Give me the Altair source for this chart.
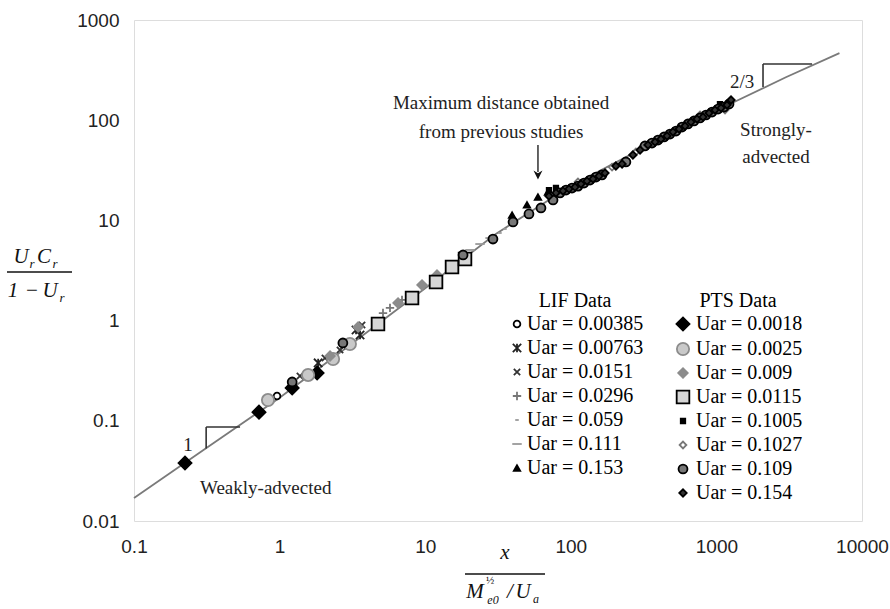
import altair as alt
import pandas as pd

# ---------------- data ----------------
curve_x = [0.1, 0.3, 1, 3, 10, 30, 100, 300, 1000, 3000, 7000]
curve_y = [0.017, 0.051, 0.17, 0.56, 2.1, 7.2, 22, 51, 125, 268, 467]

# LIF data
l00385_x = [0.96, 1.22]
l00385_y = [0.177, 0.233]
l00763_x = [1.84, 2.81, 3.35, 3.57]
l00763_y = [0.378, 0.571, 0.806, 0.718]
l0151_x = [1.38, 2.05, 2.60, 3.68]
l0151_y = [0.280, 0.423, 0.509, 0.904]
l0296_x = [5.13, 5.73, 6.93]
l0296_y = [1.19, 1.34, 1.61]
l059_x = [14.1, 16.0, 30.2, 32.6, 35.3]
l059_y = [3.35, 3.84, 6.99, 7.49, 8.21]
l111_x = [20.3, 23.8, 27.9]
l111_y = [5.07, 5.81, 6.67]
l153_x = [39.5, 50.0, 59.5, 69.7]
l153_y = [11.3, 14.3, 17.1, 19.2]

# PTS data
p0018_x = [0.224, 0.722, 1.22, 1.81]
p0018_y = [0.0379, 0.122, 0.213, 0.300]
p0025_x = [0.832, 1.57, 2.33, 3.04]
p0025_y = [0.161, 0.287, 0.414, 0.584]
p009_x = [2.22, 3.46, 6.51, 9.51, 12.05]
p009_y = [0.443, 0.863, 1.50, 2.27, 2.85]
p0115_x = [4.74, 8.12, 11.87, 15.28, 18.77]
p0115_y = [0.925, 1.68, 2.43, 3.43, 4.12]
p1005_x = [70.8, 79.1, 1058]
p1005_y = [20.1, 21.05, 145]
p1027_x = [112, 192, 280, 772, 1146]
p1027_y = [24.2, 34.1, 48.2, 112.7, 126.4]
p109_x = [1.22, 2.72, 18.2, 29.2, 40.1, 51.6, 62.4, 75.5, 84.3, 92.7, 101.9,
          112.1, 123.2, 135.5, 148.9, 163.8, 239, 323, 361, 397, 437, 480,
          528, 580, 638, 702, 772, 848, 933, 1026, 1128, 1221]
p109_y = [0.244, 0.598, 4.52, 6.52, 9.64, 11.6, 13.3, 16.0, 18.8, 20.1, 21.05,
          22.0, 23.6, 25.3, 27.1, 28.4, 38.3, 55.3, 59.2, 63.4, 68.0, 72.8,
          78.0, 85.5, 91.7, 98.2, 105.2, 112.7, 120.7, 129.3, 135.4, 145.0]
p154_x = [70.8, 79.1, 88.4, 97.2, 106.9, 117.5, 129.2, 142.1, 156.2, 171.7,
          204, 225, 267, 299, 339, 379, 416, 458, 503, 554, 609, 669, 736,
          809, 890, 978, 1076, 1182, 1260]
p154_y = [17.5, 18.8, 19.7, 20.6, 21.5, 23.1, 24.7, 25.9, 27.7, 29.7,
          34.9, 36.6, 45.0, 50.4, 56.6, 60.6, 64.9, 69.6, 76.3, 81.7, 87.5,
          95.9, 102.8, 107.6, 118.0, 126.4, 132.4, 141.8, 159.1]

lif_names = ["Uar = 0.00385", "Uar = 0.00763", "Uar = 0.0151", "Uar = 0.0296",
             "Uar = 0.059", "Uar = 0.111", "Uar = 0.153"]
pts_names = ["Uar = 0.0018", "Uar = 0.0025", "Uar = 0.009", "Uar = 0.0115",
             "Uar = 0.1005", "Uar = 0.1027", "Uar = 0.109", "Uar = 0.154"]

x_ticks = [0.1, 1, 10, 100, 1000, 10000]
y_ticks = [0.01, 0.1, 1, 10, 100, 1000]

# annotations (data coordinates)
left_texts = ["Weakly-advected"]
left_x = [0.284]
left_y = [0.0213]
center_texts = ["Strongly-", "advected", "Maximum distance obtained",
                "from previous studies", "1", "2/3"]
center_x = [2566, 2566, 33.2, 33.2, 0.235, 1500]
center_y = [79.8, 42.8, 148.5, 76.2, 0.0573, 240]

# slope triangles: segments
seg_x = [0.313, 0.313, 2090, 2090]
seg_x2 = [0.313, 0.535, 2090, 4540]
seg_y = [0.053, 0.0867, 214, 364]
seg_y2 = [0.0867, 0.0867, 364, 364]

arrow_x = [59.5]
arrow_top = [56.6]
arrow_bottom = [30.4]
arrow_tip = [28.4]

# ---------------- build tables ----------------
def long(names, xs, ys, key):
    rows = []
    for n, xv, yv in zip(names, xs, ys):
        for a, b in zip(xv, yv):
            rows.append({"x": a, "y": b, key: n})
    return pd.DataFrame(rows)

lif_df = long(lif_names, [l00385_x, l00763_x, l0151_x, l0296_x, l059_x, l111_x, l153_x],
              [l00385_y, l00763_y, l0151_y, l0296_y, l059_y, l111_y, l153_y], "lif")
pts_df = long(pts_names, [p0018_x, p0025_x, p009_x, p0115_x, p1005_x, p1027_x, p109_x, p154_x],
              [p0018_y, p0025_y, p009_y, p0115_y, p1005_y, p1027_y, p109_y, p154_y], "pts")

curve_df = pd.DataFrame({"x": curve_x, "y": curve_y})
left_df = pd.DataFrame({"x": left_x, "y": left_y, "t": left_texts})
center_df = pd.DataFrame({"x": center_x, "y": center_y, "t": center_texts})
seg_df = pd.DataFrame({"x": seg_x, "x2": seg_x2, "y": seg_y, "y2": seg_y2})
arrow_df = pd.DataFrame({"x": arrow_x, "y": arrow_top, "y2": arrow_bottom, "tip": arrow_tip})

SERIF = "Liberation Serif"
SANS = "Liberation Sans"

xscale = alt.Scale(type="log", domain=[0.1, 10000], nice=False)
yscale = alt.Scale(type="log", domain=[0.01, 1000], nice=False)

xaxis = alt.Axis(values=x_ticks, format="~g", title=None, grid=False, ticks=False,
                 domain=False, labelFont=SANS, labelFontSize=19, labelColor="#222",
                 labelPadding=16, labelFlush=False, labelOverlap=False, labelBound=False)
yaxis = alt.Axis(values=y_ticks, format="~g", title=None, grid=False, ticks=False,
                 domain=False, labelFont=SANS, labelFontSize=19, labelColor="#222",
                 labelPadding=15, labelOverlap=False, labelBound=False)

X = alt.X("x:Q", scale=xscale, axis=xaxis)
Y = alt.Y("y:Q", scale=yscale, axis=yaxis)

curve = alt.Chart(curve_df).mark_line(color="#7a7a7a", strokeWidth=1.8).encode(x=X, y=Y)

segs = alt.Chart(seg_df).mark_rule(color="#333", strokeWidth=1.6).encode(
    x=alt.X("x:Q", scale=xscale, axis=xaxis), x2="x2:Q",
    y=alt.Y("y:Q", scale=yscale, axis=yaxis), y2="y2:Q")

notes_left = alt.Chart(left_df).mark_text(font=SERIF, fontSize=19, color="#222",
                                          baseline="middle", align="left").encode(
    x=X, y=Y, text="t:N")
notes_center = alt.Chart(center_df).mark_text(font=SERIF, fontSize=19, color="#222",
                                              baseline="middle", align="center").encode(
    x=X, y=Y, text="t:N")

arrow_line = alt.Chart(arrow_df).mark_rule(color="#111", strokeWidth=1.3).encode(
    x=X, y=Y, y2="y2:Q")
arrow_head = alt.Chart(arrow_df).mark_point(
    shape="M-1,-1L0,1L1,-1L0,-0.4Z", size=80, filled=True, color="#111", opacity=1
).encode(x=X, y=alt.Y("tip:Q", scale=yscale, axis=yaxis))

STAR = "M-1,-1L1,1M1,-1L-1,1M0,-1L0,1"
XMARK = "M-1,-1L1,1M1,-1L-1,1"
PLUS = "M-1,0L1,0M0,-1L0,1"
SDASH = "M-0.5,0L0.5,0"
LDASH = "M-1,0L1,0"

lif_shapes = ["circle", STAR, XMARK, PLUS, SDASH, LDASH, "triangle-up"]
lif_fills = ["white", "transparent", "transparent", "transparent", "transparent", "transparent", "black"]
lif_strokes = ["black", "#222", "#333", "#777", "#999", "#999", "black"]
lif_sizes = [45, 70, 40, 70, 50, 90, 40]

pts_shapes = ["diamond", "circle", "diamond", "square", "square", "diamond", "circle", "diamond"]
pts_fills = ["black", "#c9c9c9", "#8c8c8c", "#d6d6d6", "black", "white", "#777", "#333"]
pts_strokes = ["black", "#8c8c8c", "#8c8c8c", "black", "black", "#777", "black", "black"]
pts_sizes = [170, 150, 90, 160, 20, 45, 80, 55]

def leg(title, lx, offset):
    return alt.Legend(title=title, orient="none", legendX=lx, legendY=271,
                      titleAnchor="middle", titleFont=SERIF, titleFontSize=20,
                      titleFontWeight="normal", titleColor="black", titlePadding=3,
                      labelFont=SERIF, labelFontSize=20, labelColor="black",
                      rowPadding=4, labelOffset=offset, padding=0,
                      symbolStrokeWidth=1.8)

def layer_for(df, key, names, shapes, fills, strokes, sizes, title, lx, offset):
    lg = leg(title, lx, offset)
    return alt.Chart(df).mark_point(strokeWidth=1.8, opacity=1).encode(
        x=X, y=Y,
        shape=alt.Shape(f"{key}:N", scale=alt.Scale(domain=names, range=shapes), legend=lg),
        fill=alt.Fill(f"{key}:N", scale=alt.Scale(domain=names, range=fills), legend=lg),
        stroke=alt.Stroke(f"{key}:N", scale=alt.Scale(domain=names, range=strokes), legend=lg),
        size=alt.Size(f"{key}:N", scale=alt.Scale(type="ordinal", domain=names, range=sizes), legend=lg),
    )

lif_layer = layer_for(lif_df, "lif", lif_names, lif_shapes, lif_fills, lif_strokes,
                      lif_sizes, "LIF Data", 373, 0)
pts_layer = layer_for(pts_df, "pts", pts_names, pts_shapes, pts_fills, pts_strokes,
                      pts_sizes, "PTS Data", 539, 3)

dummy = pd.DataFrame({"a": [0]})

def txt(t, px, py, size=21, italic=True, align="center"):
    return alt.Chart(dummy).mark_text(text=t, font=SERIF, fontSize=size,
                                      fontStyle="italic" if italic else "normal",
                                      align=align, baseline="alphabetic", color="#111"
                                      ).encode(x=alt.value(px), y=alt.value(py))

def hline(x1, x2, py):
    return alt.Chart(dummy).mark_rule(color="#111", strokeWidth=1.5).encode(
        x=alt.value(x1), x2=alt.value(x2), y=alt.value(py))

# y-axis title  (U_r C_r) / (1 - U_r)
ytitle = [
    txt("U", -113, 243), txt("r", -102, 248, size=13),
    txt("C", -90, 243), txt("r", -79, 248, size=13),
    hline(-127, -62, 252),
    txt("1", -121, 277), txt("\u2212", -102, 277, italic=False),
    txt("U", -84, 277), txt("r", -72, 282, size=13),
]
# x-axis title  x / (M_e0^(1/2) / U_a)
xtitle = [
    txt("x", 371, 539),
    hline(331, 411, 554),
    txt("M", 341, 578),
    txt("\u00bd", 356, 564, size=11, italic=False),
    txt("e0", 359, 584, size=12),
    txt("/", 376, 578), txt("U", 389, 578), txt("a", 402, 583, size=12),
]

chart = alt.layer(
    curve, segs, arrow_line, arrow_head, notes_left, notes_center,
    lif_layer, pts_layer, *ytitle, *xtitle
).resolve_scale(
    shape="independent", fill="independent", stroke="independent", size="independent"
).properties(
    width=728, height=501,
    autosize=alt.AutoSizeParams(type="none"),
    padding={"left": 134, "top": 20, "right": 28, "bottom": 88},
).configure_view(stroke="#7d7d7d", strokeWidth=3).configure(background="white")

chart.save("out.html", embed_options={"renderer": "svg", "actions": False})
